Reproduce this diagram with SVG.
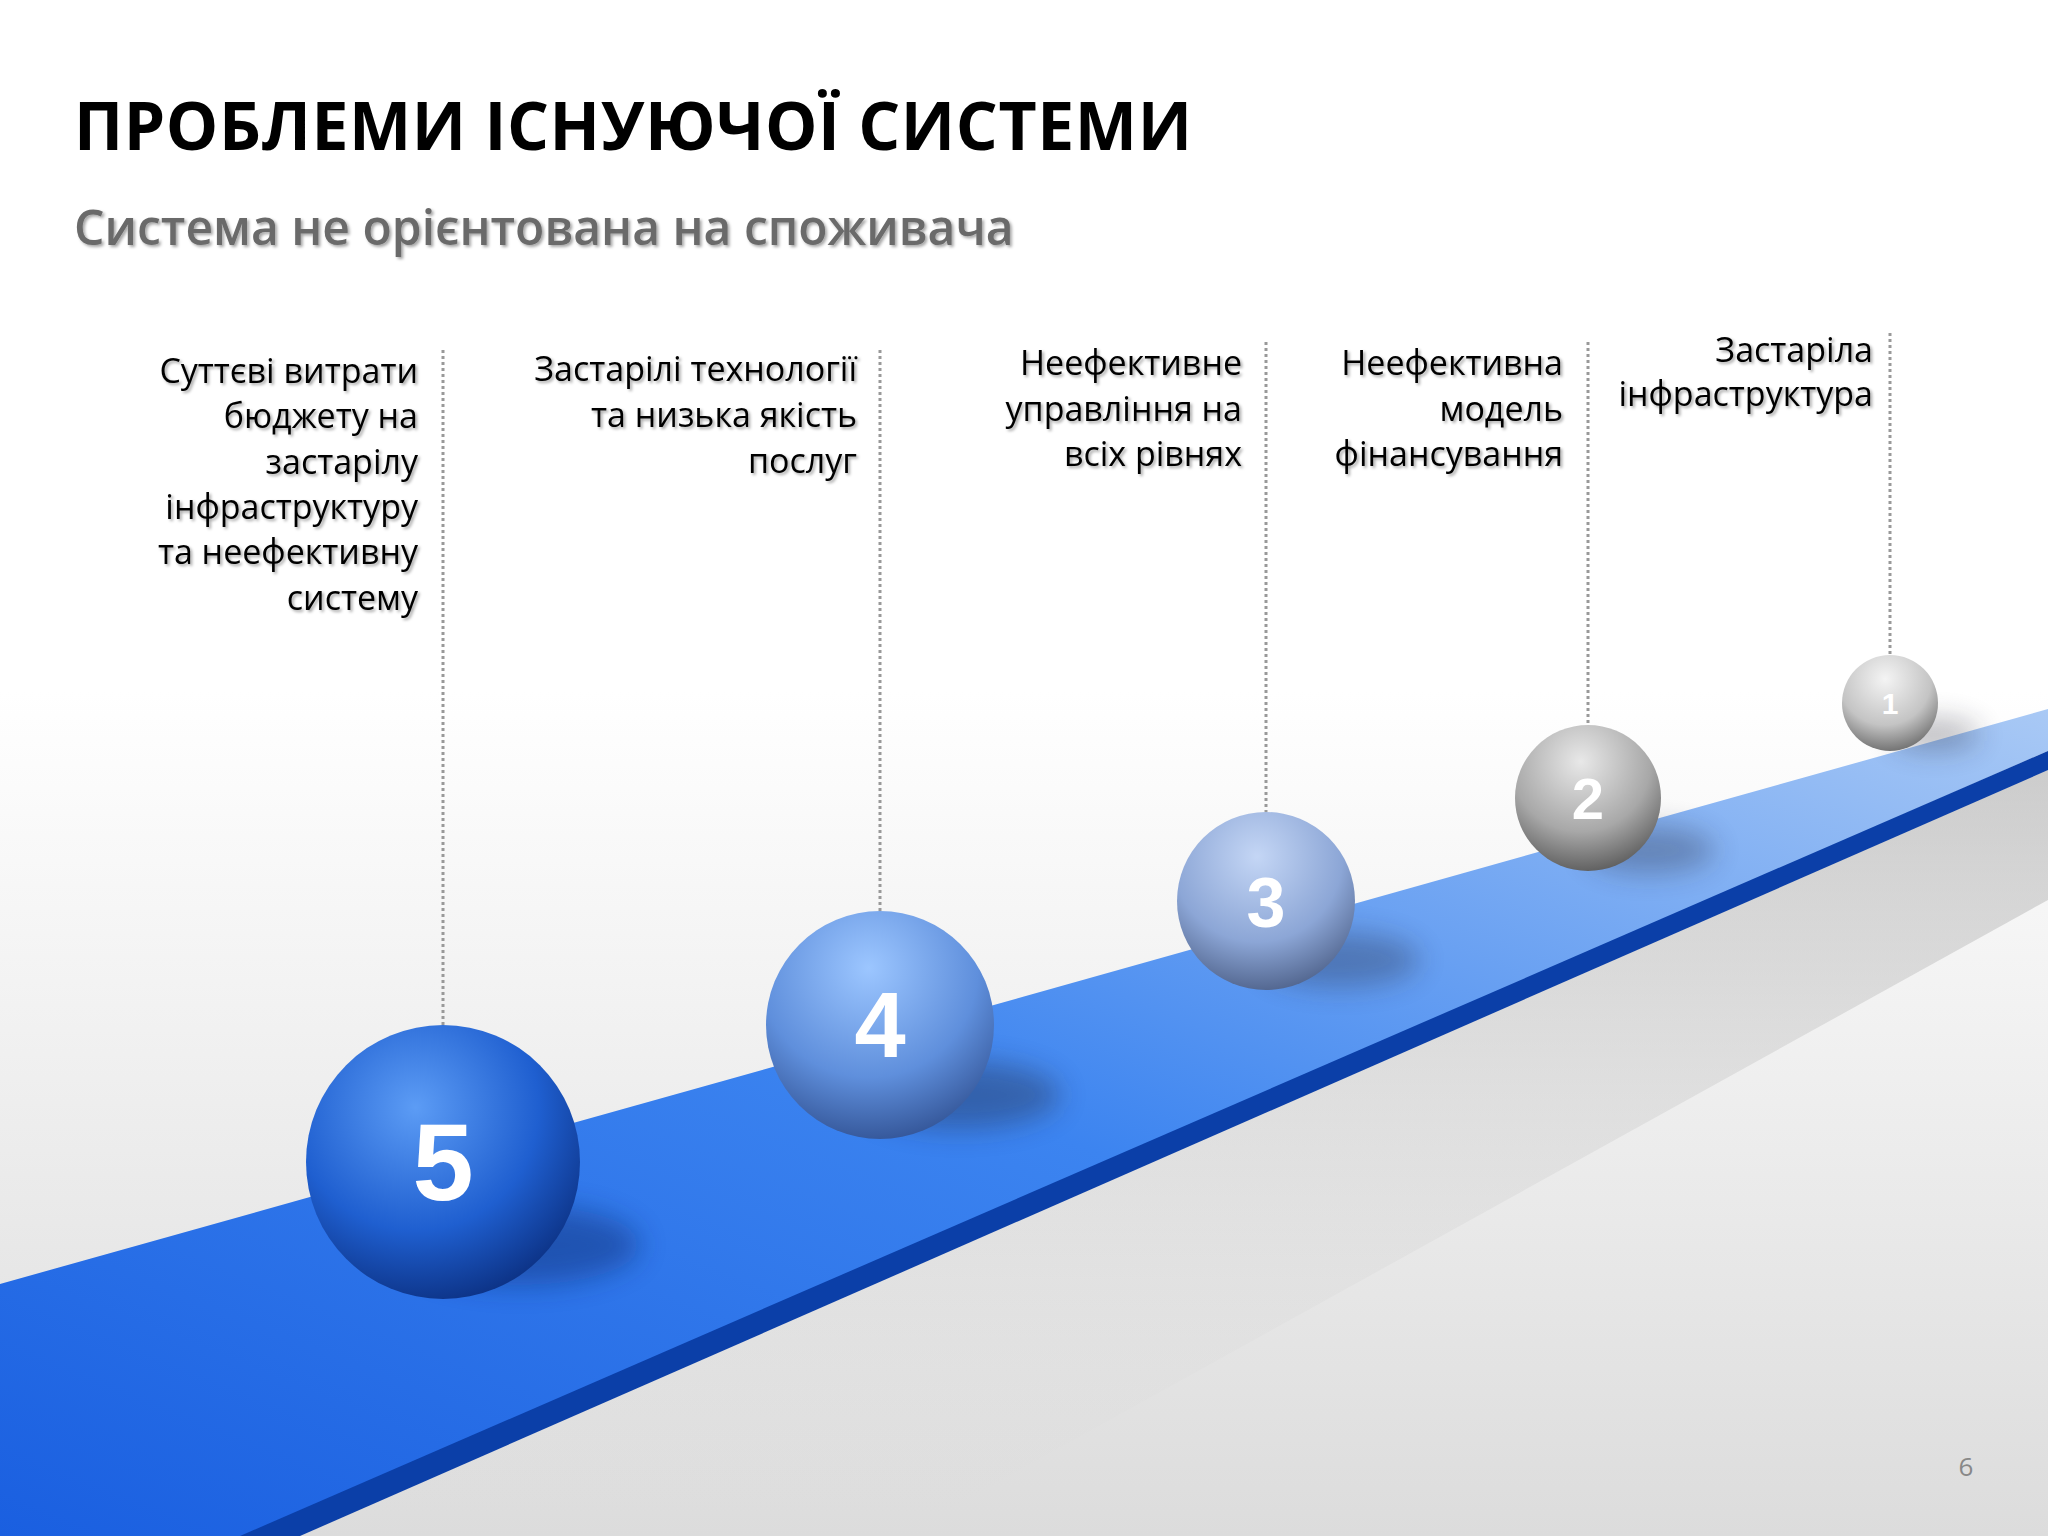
<svg xmlns="http://www.w3.org/2000/svg" width="2048" height="1536" viewBox="0 0 2048 1536">
<defs>
<linearGradient id="bg" x1="0" y1="0" x2="0" y2="1"><stop offset="0.45" stop-color="#ffffff"/><stop offset="1" stop-color="#dcdcdc"/></linearGradient>
<linearGradient id="band" x1="0" y1="1" x2="1" y2="0"><stop offset="0" stop-color="#1a5fe0"/><stop offset="0.5" stop-color="#3c84f0"/><stop offset="1" stop-color="#a9c9f5"/></linearGradient>
<linearGradient id="shadow" x1="0" y1="0" x2="0" y2="1"><stop offset="0" stop-color="#999" stop-opacity="0.5"/><stop offset="1" stop-color="#ddd" stop-opacity="0"/></linearGradient>
<radialGradient id="g5" cx="0.4" cy="0.3" r="0.75"><stop offset="0" stop-color="#5c9cf5"/><stop offset="0.6" stop-color="#1f5fd0"/><stop offset="1" stop-color="#0b2f80"/></radialGradient>
<radialGradient id="g4" cx="0.45" cy="0.25" r="0.8"><stop offset="0" stop-color="#9cc6ff"/><stop offset="0.6" stop-color="#5f8fdc"/><stop offset="1" stop-color="#2f4f90"/></radialGradient>
<radialGradient id="g3" cx="0.45" cy="0.25" r="0.8"><stop offset="0" stop-color="#c4d6f5"/><stop offset="0.6" stop-color="#8ca6d6"/><stop offset="1" stop-color="#4a5d85"/></radialGradient>
<radialGradient id="g2" cx="0.45" cy="0.25" r="0.8"><stop offset="0" stop-color="#e8e8e8"/><stop offset="0.6" stop-color="#a8a8a8"/><stop offset="1" stop-color="#555"/></radialGradient>
<radialGradient id="g1" cx="0.45" cy="0.25" r="0.8"><stop offset="0" stop-color="#f4f4f4"/><stop offset="0.6" stop-color="#c4c4c4"/><stop offset="1" stop-color="#666"/></radialGradient>
<filter id="ts"><feDropShadow dx="2" dy="2" stdDeviation="1.5" flood-color="#000" flood-opacity="0.35"/></filter>
<filter id="blur" x="-100%" y="-100%" width="300%" height="300%"><feGaussianBlur stdDeviation="14"/></filter>
</defs>
<style>
.lbl{font-family:"Open Sans","Liberation Sans",sans-serif;font-size:34px;fill:#000;text-anchor:end}
.dot{stroke:#999;stroke-width:3;stroke-dasharray:3 3;fill:none}
.num{font-family:"Liberation Sans",sans-serif;font-weight:bold;fill:#fff;text-anchor:middle}
</style>
<rect width="2048" height="1536" fill="url(#bg)"/>
<polygon points="261,1536 2048,751 2048,900 900,1536" fill="url(#shadow)"/>
<polygon points="0,1284 2048,709 2048,751 261,1536 0,1536" fill="url(#band)"/>
<polygon points="240,1536 2048,751 2048,770 300,1536" fill="#0b3fa8"/>
<text x="74" y="150" font-family="'Open Sans','Liberation Sans',sans-serif" font-weight="bold" font-size="66" textLength="1118">ПРОБЛЕМИ ІСНУЮЧОЇ СИСТЕМИ</text>
<text x="74" y="245" font-family="'Open Sans','Liberation Sans',sans-serif" font-weight="600" font-size="48" fill="#6a6a6a" filter="url(#ts)">Система не орієнтована на споживача</text>
<g id="connectors">
<line class="dot" x1="443" y1="350" x2="443" y2="1025"/>
<line class="dot" x1="880" y1="350" x2="880" y2="914"/>
<line class="dot" x1="1266" y1="342" x2="1266" y2="812"/>
<line class="dot" x1="1588" y1="342" x2="1588" y2="725"/>
<line class="dot" x1="1890" y1="333" x2="1890" y2="655"/>
</g>
<g filter="url(#ts)">
<text class="lbl" x="418" y="383">Суттєві витрати</text>
<text class="lbl" x="418" y="428">бюджету на</text>
<text class="lbl" x="418" y="474">застарілу</text>
<text class="lbl" x="418" y="519">інфраструктуру</text>
<text class="lbl" x="418" y="564">та неефективну</text>
<text class="lbl" x="418" y="610">систему</text>
<text class="lbl" x="857" y="381">Застарілі технології</text>
<text class="lbl" x="857" y="427">та низька якість</text>
<text class="lbl" x="857" y="473">послуг</text>
<text class="lbl" x="1242" y="375">Неефективне</text>
<text class="lbl" x="1242" y="421">управління на</text>
<text class="lbl" x="1242" y="466">всіх рівнях</text>
<text class="lbl" x="1563" y="375">Неефективна</text>
<text class="lbl" x="1563" y="421">модель</text>
<text class="lbl" x="1563" y="466">фінансування</text>
<text class="lbl" x="1873" y="362">Застаріла</text>
<text class="lbl" x="1873" y="406">інфраструктура</text>
</g>
<g id="n5"><ellipse cx="520" cy="1245" rx="120" ry="40" fill="#0a2a70" opacity="0.45" filter="url(#blur)"/><circle cx="443" cy="1162" r="137" fill="url(#g5)"/><text class="num" x="443" y="1200" font-size="110">5</text></g>
<g id="n4"><ellipse cx="960" cy="1095" rx="100" ry="34" fill="#223" opacity="0.35" filter="url(#blur)"/><circle cx="880" cy="1025" r="114" fill="url(#g4)"/><text class="num" x="880" y="1057" font-size="92">4</text></g>
<g id="n3"><ellipse cx="1340" cy="960" rx="80" ry="28" fill="#223" opacity="0.3" filter="url(#blur)"/><circle cx="1266" cy="901" r="89" fill="url(#g3)"/><text class="num" x="1266" y="927" font-size="70">3</text></g>
<g id="n2"><ellipse cx="1650" cy="850" rx="65" ry="24" fill="#223" opacity="0.3" filter="url(#blur)"/><circle cx="1588" cy="798" r="73" fill="url(#g2)"/><text class="num" x="1588" y="819" font-size="58">2</text></g>
<g id="n1"><ellipse cx="1935" cy="735" rx="45" ry="16" fill="#223" opacity="0.3" filter="url(#blur)"/><circle cx="1890" cy="703" r="48" fill="url(#g1)"/><text class="num" x="1890" y="714" font-size="30">1</text></g>
<text x="1966" y="1476" font-family="'Open Sans','Liberation Sans',sans-serif" font-size="26" fill="#888" text-anchor="middle">6</text>
</svg>
